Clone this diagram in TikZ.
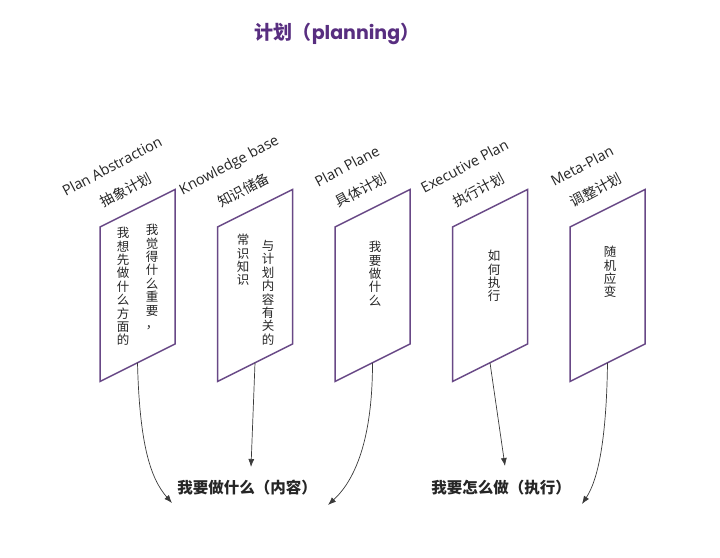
\documentclass[tikz,border=0pt]{standalone}
\usepackage{fontspec}
\setmainfont{Noto Sans CJK SC}
\newfontfamily\latinfont{Open Sans}
\newfontfamily\titlefont{Poppins}
\usetikzlibrary{positioning, arrows.meta, calc}

\definecolor{planpurple}{RGB}{104,72,134}
\definecolor{titlepurple}{RGB}{88,46,128}
\definecolor{arrowgray}{RGB}{58,58,58}

\begin{document}
\begin{tikzpicture}[
    x=1pt, y=-1pt,
    sheet/.style={draw=planpurple, line width=1.5pt, line join=miter, fill=white},
    enlabel/.style={font=\latinfont\fontsize{14.5}{16}\selectfont, rotate=28, inner sep=0pt, text=black!85},
    cnlabel/.style={font=\fontsize{14}{16}\selectfont, rotate=28, inner sep=0pt, text=black!85},
    vcol/.style={font=\fontsize{12.5}{13.4}\selectfont, align=center, anchor=north, inner sep=0pt, text=black!85},
    goal/.style={font=\bfseries\fontsize{15.5}{17}\selectfont, inner sep=1pt, text=black!85},
    flow/.style={-{Latex[length=8pt, width=6pt]}, draw=arrowgray, line width=0.7pt},
    title/.style={font=\bfseries\fontsize{19}{21}\selectfont, text=titlepurple},
]
\useasboundingbox (0,0) rectangle (720,557);

% --- Title ---
\node[title] (title) at (337,34) {计划（{\titlefont planning}）};

% --- Plan sheets (sheared boxes) with their rotated labels ---
\foreach \i/\en/\cn in {%
    1/Plan Abstraction/抽象计划, 2/Knowledge base/知识储备,
    3/Plan Plane/具体计划, 4/Executive Plan/执行计划, 5/Meta-Plan/调整计划%
}{
    \pgfmathsetmacro\L{100+117.5*(\i-1)}
    \coordinate (s\i-tl) at (\L,227);
    \coordinate (s\i-tr) at (\L+75,189.5);
    \coordinate (s\i-br) at (\L+75,344);
    \coordinate (s\i-bl) at (\L,381.5);
    \draw[sheet] (s\i-tl) -- (s\i-tr) -- (s\i-br) -- (s\i-bl) -- cycle;
    \coordinate (foot\i) at ($(s\i-bl)!0.5!(s\i-br)$);
    \node[enlabel] (en\i) at (\L+12,166) {\en};
    \node[cnlabel] (cn\i) at (\L+26,190) {\cn};
}

% --- Vertical text inside the sheets ---
\node[vcol] (v1a) at (152,224) {我\\觉\\得\\什\\么\\重\\要\\，};
\node[vcol] (v1b) at (123,227) {我\\想\\先\\做\\什\\么\\方\\面\\的};
\node[vcol] (v2a) at (268,240) {与\\计\\划\\内\\容\\有\\关\\的};
\node[vcol] (v2b) at (243,234) {常\\识\\知\\识};
\node[vcol] (v3)  at (375,241) {我\\要\\做\\什\\么};
\node[vcol] (v4)  at (494,250) {如\\何\\执\\行};
\node[vcol] (v5)  at (610,246) {随\\机\\应\\变};

% --- Goals ---
\node[goal] (what) at (247,488) {我要做什么（内容）};
\node[goal] (how)  at (501,488) {我要怎么做（执行）};

\coordinate (tip1) at (172,503);
\coordinate (tip2) at (251,467);
\coordinate (tip3) at (328,505);
\coordinate (tip4) at (505,466);
\coordinate (tip5) at (582,504);

% --- Arrows from the sheets to the goals ---
\draw[flow] (foot1) .. controls +(2,80) and +(-22,-25) .. (tip1);
\draw[flow] (foot2) -- (tip2);
\draw[flow] (foot3) .. controls +(0,77) and +(27,-25) .. (tip3);
\draw[flow] (foot4) -- (tip4);
\draw[flow] (foot5) .. controls +(-1,77) and +(16,-24) .. (tip5);

\end{tikzpicture}
\end{document}
